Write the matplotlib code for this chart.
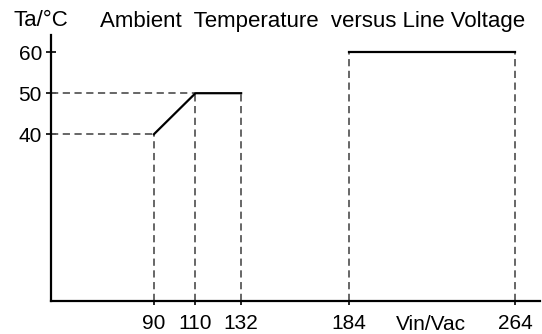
import matplotlib.pyplot as plt

plt.rcParams['font.family'] = ['Liberation Sans', 'DejaVu Sans']

# derating curve: Vin (Vac) -> Ta (deg C)
low_vin = [90, 110, 132]
low_ta = [40, 50, 50]
high_vin = [184, 264]
high_ta = [60, 60]
x_ticks = [90, 110, 132, 184, 264]
y_ticks = [40, 50, 60]

W, H = 542, 334
fig = plt.figure(figsize=(W / 100, H / 100), dpi=100)
ax = fig.add_axes([51 / W, 1 - 301 / H, (540 - 51) / W, (301 - 35) / H])
ax.set_xlim(40.4, 276)
ax.set_ylim(-0.7, 64.2)

dash = dict(color='#5a5a5a', linestyle=(0, (4, 2.5)), linewidth=1.3)
# dashed guides
for v, t in zip(low_vin, low_ta):
    ax.plot([v, v], [-0.7, t], **dash)
for v, t in zip(high_vin, high_ta):
    ax.plot([v, v], [-0.7, t], **dash)
ax.plot([40.4, low_vin[0]], [low_ta[0], low_ta[0]], **dash)
ax.plot([40.4, low_vin[1]], [low_ta[1], low_ta[1]], **dash)

# solid curve
ax.plot(low_vin, low_ta, color='black', linewidth=1.6)
ax.plot(high_vin, high_ta, color='black', linewidth=1.6)

for s in ['top', 'right']:
    ax.spines[s].set_visible(False)
for s in ['left', 'bottom']:
    ax.spines[s].set_linewidth(1.6)

ax.set_xticks(x_ticks)
ax.set_yticks(y_ticks)
ax.tick_params(axis='x', direction='out', length=3, width=1.2, labelsize=15, pad=6.5)
ax.tick_params(axis='y', direction='inout', length=7, width=1.2, labelsize=15, pad=3)

fig.text(41 / W, 1 - 26.5 / H, 'Ta/°C', fontsize=16, va='baseline', ha='center')
fig.text(100 / W, 1 - 26.5 / H, 'Ambient  Temperature  versus Line Voltage',
         fontsize=16, va='baseline', ha='left')
fig.text(431 / W, 1 - 330 / H, 'Vin/Vac', fontsize=15, va='baseline', ha='center')

fig.savefig('out.png', dpi=100)
